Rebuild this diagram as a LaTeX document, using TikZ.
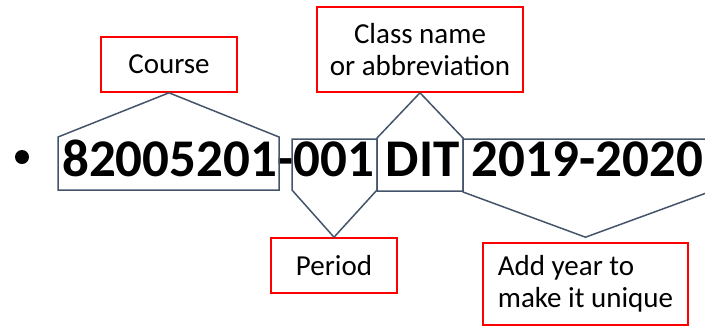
\documentclass[tikz,border=0pt]{standalone}
\usepackage{fontspec}
\setmainfont{Carlito}
\usetikzlibrary{positioning}
\definecolor{slate}{HTML}{44546A}

\begin{document}
\begin{tikzpicture}[x=1pt,y=-1pt,
                    lbl/.style={draw=red,line width=1.6pt,inner sep=0pt,
                                font=\fontsize{29}{32.5}\selectfont},
                    callout/.style={draw=slate,line width=1.5pt}]
  \useasboundingbox (0,0) rectangle (705,325);

  \node[lbl,minimum width=136pt,minimum height=55pt] (course) at (169,64.5) {Course};
  \node[lbl,minimum width=206pt,minimum height=85pt,align=center] (class) at (420,49.5)
       {Class name\\or abbreviation};
  \node[lbl,minimum width=126pt,minimum height=55pt] (period) at (334,265.5) {Period};
  \node[lbl,minimum width=205pt,minimum height=82pt,align=left] (year) at (585.5,284)
       {Add year to\\make it unique};

  \node[circle,fill,inner sep=0pt,minimum size=14pt] (dot) at (22,157) {};
  \node[anchor=base west,inner sep=0pt,font=\fontsize{53}{60}\selectfont\bfseries]
       (code) at (62,176) {82005201-001 DIT 2019-2020};

  % callouts
  \draw[callout] (58,190) -- (58,137) -- (course.south) -- (279,137) -- (279,190) -- cycle;
  \draw[callout] (377,191) -- (377,138) -- (class.south) -- (463,138) -- (463,191) -- cycle;
  \draw[callout] (292,139) -- (292,190) -- (period.north) -- (377,190) -- (377,139) -- cycle;
  \draw[callout] (463,139) -- (463,192) -- ([yshift=5pt]year.north) -- (709,192) -- (709,139) -- cycle;
\end{tikzpicture}
\end{document}
